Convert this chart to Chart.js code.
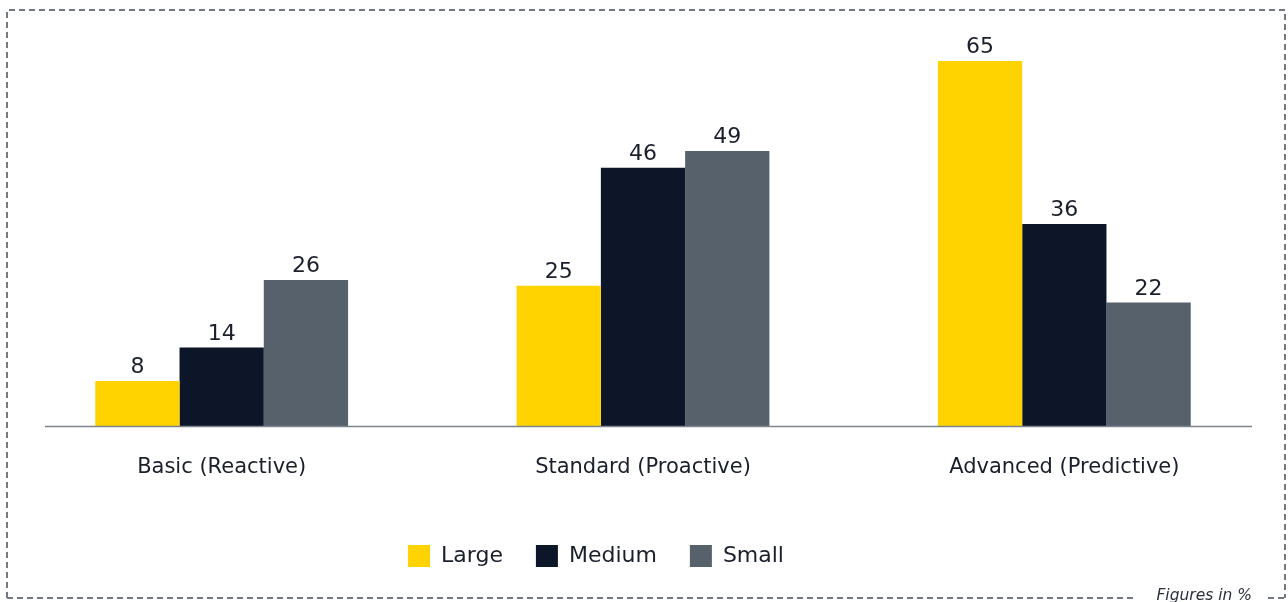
<!DOCTYPE html>
<html>
<head>
<meta charset="utf-8">
<script src="https://cdn.jsdelivr.net/npm/chart.js@4/dist/chart.umd.min.js"></script>
<style>
  html, body { margin: 0; padding: 0; background: #ffffff; }
  #wrap { position: relative; width: 1288px; height: 602px; }
  canvas { display: block; }
</style>
</head>
<body>
<div id="wrap"><canvas id="chart" width="1288" height="602"></canvas></div>
<script>
// Maturity levels and share of companies per size class (%)
const categories = ['Basic (Reactive)', 'Standard (Proactive)', 'Advanced (Predictive)'];
const seriesNames = ['Large', 'Medium', 'Small'];
const largeValues = [8, 25, 65];
const mediumValues = [14, 46, 36];
const smallValues = [26, 49, 22];
const footnote = 'Figures in %';

const COLORS = ['#ffd300', '#0c1628', '#56616c'];
const FONT = '"DejaVu Sans", "Noto Sans", sans-serif';
const TEXT = '#1a1f2c';

// Value labels above each bar, read from the bar elements
const valueLabels = {
  id: 'valueLabels',
  afterDatasetsDraw(chart) {
    const ctx = chart.ctx;
    ctx.save();
    ctx.font = '22px ' + FONT;
    ctx.fillStyle = TEXT;
    ctx.textAlign = 'center';
    ctx.textBaseline = 'middle';
    chart.data.datasets.forEach((ds, i) => {
      const meta = chart.getDatasetMeta(i);
      meta.data.forEach((bar, j) => {
        ctx.fillText(String(ds.data[j]), bar.x, bar.y - 13.5);
      });
    });
    ctx.restore();
  }
};

// Legend sits a little left of the chart centre
const legendShift = {
  id: 'legendShift',
  afterLayout(chart) {
    const lg = chart.legend;
    if (lg) { lg.left -= 47; lg.right -= 47; }
  }
};

// Baseline, dashed frame and footnote
const frame = {
  id: 'frame',
  afterDraw(chart) {
    const ctx = chart.ctx;
    const y0 = Math.round(chart.scales.y.getPixelForValue(0)) + 0.5;
    ctx.save();
    ctx.strokeStyle = '#7d848c';
    ctx.lineWidth = 1.5;
    ctx.beginPath();
    ctx.moveTo(45, y0);
    ctx.lineTo(1252, y0);
    ctx.stroke();

    ctx.strokeStyle = '#727981';
    ctx.lineWidth = 2;
    ctx.setLineDash([6, 4]);
    ctx.beginPath();
    ctx.moveTo(7, 598);
    ctx.lineTo(7, 10);
    ctx.lineTo(1285, 10);
    ctx.lineTo(1285, 598);
    ctx.stroke();
    ctx.beginPath();
    ctx.moveTo(7, 598);
    ctx.lineTo(1136, 598);
    ctx.moveTo(1268, 598);
    ctx.lineTo(1285, 598);
    ctx.stroke();
    ctx.setLineDash([]);

    ctx.font = 'italic 15.5px ' + FONT;
    ctx.fillStyle = '#2a2f3a';
    ctx.textAlign = 'right';
    ctx.textBaseline = 'middle';
    ctx.fillText(footnote, 1252, 596);
    ctx.restore();
  }
};

new Chart(document.getElementById('chart'), {
  type: 'bar',
  data: {
    labels: categories,
    datasets: [
      { label: seriesNames[0], data: largeValues, backgroundColor: COLORS[0] },
      { label: seriesNames[1], data: mediumValues, backgroundColor: COLORS[1] },
      { label: seriesNames[2], data: smallValues, backgroundColor: COLORS[2] }
    ]
  },
  options: {
    responsive: false,
    animation: false,
    layout: { padding: { top: 33, left: 11, right: 13, bottom: 25 } },
    datasets: { bar: { categoryPercentage: 0.6, barPercentage: 1.0, borderWidth: 0 } },
    scales: {
      y: { display: false, min: 0, max: 70 },
      x: {
        grid: { display: false },
        border: { display: false },
        ticks: { font: { family: FONT, size: 21 }, color: TEXT, padding: 21 },
        afterFit(scale) { scale.height = 86; }
      }
    },
    plugins: {
      tooltip: { enabled: false },
      legend: {
        position: 'bottom',
        labels: {
          boxWidth: 22,
          boxHeight: 22,
          padding: 33,
          color: TEXT,
          font: { family: FONT, size: 22 }
        }
      }
    }
  },
  plugins: [valueLabels, legendShift, frame]
});
</script>
</body>
</html>
